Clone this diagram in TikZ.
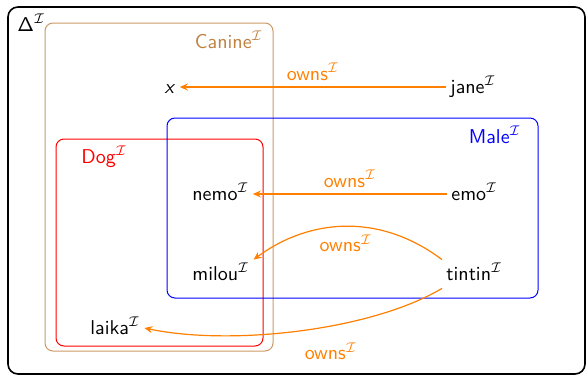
\documentclass[tikz,border=0pt]{standalone}
\renewcommand{\familydefault}{\sfdefault}
\usetikzlibrary{arrows.meta}
\begin{document}
\begin{tikzpicture}[x=0.5pt,y=0.5pt,
  elem/.style={inner xsep=2pt,inner ysep=2pt,text height=8pt,text depth=2pt},
  own/.style={draw=orange,line width=0.6pt,-{Stealth[length=4pt,width=3.5pt]}},
  ownlbl/.style={text=orange,inner sep=1pt},
  setbox/.style={rounded corners=4pt,line width=0.5pt}]
\useasboundingbox (0,0) rectangle (587,376);
% boxes
\draw[line width=0.8pt,rounded corners=5pt] (8,2) rectangle (585,369);
\draw[setbox,draw=brown!80] (45,25) rectangle (273,353);
\draw[setbox,draw=red] (56,30) rectangle (263,237);
\draw[setbox,draw=blue] (167,78) rectangle (538,258);
% labels of sets
\node[anchor=base west,inner sep=0pt] (delta) at (17,345) {$\mathsf{\Delta}^{\mathcal{I}}$};
\node[anchor=base east,inner sep=0pt,text=brown] (canine) at (263,328) {Canine$^{\mathcal{I}}$};
\node[anchor=base west,inner sep=0pt,text=red] (dog) at (81,213) {Dog$^{\mathcal{I}}$};
\node[anchor=base east,inner sep=0pt,text=blue] (male) at (521,233) {Male$^{\mathcal{I}}$};
% elements
\node[elem,anchor=base] (x) at (170,283) {\textsl{x}};
\node[elem,anchor=base west] (jane) at (446,283) {jane$^{\mathcal{I}}$};
\node[elem,anchor=base west] (nemo) at (188,176) {nemo$^{\mathcal{I}}$};
\node[elem,anchor=base west] (emo) at (447,176) {emo$^{\mathcal{I}}$};
\node[elem,anchor=base west] (milou) at (188,96) {milou$^{\mathcal{I}}$};
\node[elem,anchor=base west] (tintin) at (442,96) {tintin$^{\mathcal{I}}$};
\node[elem,anchor=base west] (laika) at (86,42) {laika$^{\mathcal{I}}$};
% relations
\draw[own] (jane) -- node[ownlbl,midway,above=2pt] {owns$^{\mathcal{I}}$} (x);
\draw[own] (emo) -- node[ownlbl,midway,above=2pt] {owns$^{\mathcal{I}}$} (nemo);
\draw[own] (tintin.north west) .. controls (380,163) and (310,158) .. node[ownlbl,pos=0.5,below=3pt] {owns$^{\mathcal{I}}$} (milou.north east);
\draw[own] (tintin.south west) .. controls (370,45) and (230,30) .. node[ownlbl,pos=0.4,below=7pt] {owns$^{\mathcal{I}}$} (laika.east);
\end{tikzpicture}
\end{document}
